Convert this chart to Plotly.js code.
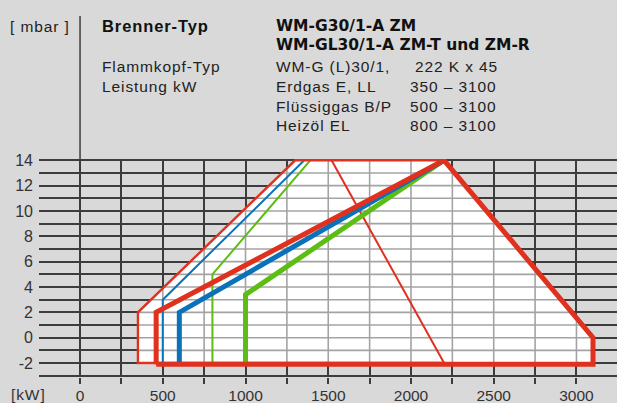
<!DOCTYPE html>
<html><head><meta charset="utf-8">
<script src="https://cdn.plot.ly/plotly-3.0.1.min.js"></script>
<style>
html,body{margin:0;padding:0;background:#d9d9d9;}
text.annotation-text[style*="Liberation"]{letter-spacing:0.9px;}
</style>
</head><body><div id="chart" style="width:617px;height:403px;"></div>
<script>
// ---- data (kW / mbar) ----
const envelopeX = [350, 350, 1300, 2200, 3100, 3100, 350];
const envelopeY = [-2.1, 2, 14, 14, 0, -2.1, -2.1];

const redThinX = [2200, 1300, 350, 350, 2200];
const redThinY = [14, 14, 2, -2, -2];
const redDiagX = [1520, 2200];
const redDiagY = [14, -2];
const blueThinX = [500, 500, 1355];
const blueThinY = [-2, 3, 14];
const greenThinX = [800, 800, 1405];
const greenThinY = [-2, 5, 14.2];

const redThickX = [460, 460, 2200, 3100, 3100, 460];
const redThickY = [-2.1, 2, 14, 0, -2.1, -2.1];
const blueThickX = [600, 600, 2200];
const blueThickY = [-2.1, 2, 14];
const greenThickX = [1000, 1000, 2200];
const greenThickY = [-2.1, 3.4, 14];

const xTickVals = [0, 500, 1000, 1500, 2000, 2500, 3000];
const xTickText = ['0', '500', '1000', '1500', '2000', '2500', '3000'];
const yTickVals = [-2, 0, 2, 4, 6, 8, 10, 12, 14];
const yTickText = ['-2', '0', '2', '4', '6', '8', '10', '12', '14'];

const yUnit = '[ mbar ]';
const xUnit = '[kW]';
const headerLabels = ['Brenner-Typ', 'Flammkopf-Typ', 'Leistung kW'];
const modelNames = ['WM-G30/1-A ZM', 'WM-GL30/1-A ZM-T und ZM-R'];
const flameHead = ['WM-G (L)30/1,', '222 K x 45'];
const fuels = ['Erdgas E, LL', 'Flüssiggas B/P', 'Heizöl EL'];
const fuelRanges = ['350 – 3100', '500 – 3100', '800 – 3100'];

// ---- styling ----
const RED = '#e0301e', BLUE = '#0a72b8', GREEN = '#5cbd12';
const FONT = 'Liberation Sans, Arial, sans-serif';
const BFONT = 'DejaVu Sans, sans-serif';
const W = 617, H = 403, L = 39, R = 0, T = 159, B = 26;
const PW = W - L - R, PH = H - T - B;
const px = x => (x - L) / PW;
const py = y => (H - B - y) / PH;
const xRange = [-248, 3245], yRange = [-3.1, 14.1];
const X_MINOR = 250, Y_MINOR = 1;

// grid lines inside the white field are lighter: clip the grid to the field outline
function clipToField(horizontal, c) {
  const hits = [];
  for (let i = 0; i < envelopeX.length - 1; i++) {
    const a = horizontal ? envelopeY[i] : envelopeX[i];
    const b = horizontal ? envelopeY[i + 1] : envelopeX[i + 1];
    if (a === b || (a - c) * (b - c) > 0) continue;
    const t = (c - a) / (b - a);
    hits.push(horizontal ? envelopeX[i] + t * (envelopeX[i + 1] - envelopeX[i])
                         : envelopeY[i] + t * (envelopeY[i + 1] - envelopeY[i]));
  }
  return hits.length >= 2 ? [Math.min(...hits), Math.max(...hits)] : null;
}
const innerGridX = [], innerGridY = [];
for (let k = Math.ceil(yRange[0]); k <= yRange[1]; k += Y_MINOR) {
  const s = clipToField(true, k);
  if (s) innerGridX.push(s[0], s[1], null), innerGridY.push(k, k, null);
}
for (let k = Math.ceil(xRange[0] / X_MINOR) * X_MINOR; k <= xRange[1]; k += X_MINOR) {
  const s = clipToField(false, k);
  if (s) innerGridX.push(k, k, null), innerGridY.push(s[0], s[1], null);
}

const line = (x, y, color, width) => ({
  type: 'scatter', mode: 'lines', x: x, y: y, connectgaps: false,
  line: {color: color, width: width}, hoverinfo: 'skip', showlegend: false
});

const traces = [
  {type: 'scatter', mode: 'lines', x: envelopeX, y: envelopeY, fill: 'toself',
   fillcolor: '#ffffff', line: {width: 0, color: 'rgba(0,0,0,0)'},
   hoverinfo: 'skip', showlegend: false},
  line(innerGridX, innerGridY, '#a3a3a3', 1.6),
  line(greenThinX, greenThinY, GREEN, 2),
  line(blueThinX, blueThinY, BLUE, 2),
  line(redDiagX, redDiagY, RED, 2),
  line(redThinX, redThinY, RED, 2.4),
  line(greenThickX, greenThickY, GREEN, 5),
  line(blueThickX, blueThickY, BLUE, 5),
  line(redThickX, redThickY, RED, 5)
];

const DARK = '#3c3c3c';

const regFont = {family: FONT, size: 15.5, color: '#222'};
const ann = (text, x, y, opt) => Object.assign({
  text: text, xref: 'paper', yref: 'paper', x: px(x), y: py(y),
  xanchor: 'left', yanchor: 'middle', showarrow: false, borderpad: 0, borderwidth: 0,
  font: regFont
}, opt || {});
const bold = {font: {family: BFONT, size: 15.5, color: '#111', weight: 700}};

const rows = [26, 45.5, 66.3, 86.5, 106.3, 125.5];
const C1 = 102, C2 = 276, C3 = 410;
const annotations = [
  ann(yUnit, 10, rows[0]),
  ann(headerLabels[0], C1, rows[0], {font: {family: FONT, size: 16.5, color: '#111', weight: 700}}),
  ann(modelNames[0], C2, rows[0], bold),
  ann(modelNames[1], C2, rows[1], bold),
  ann(headerLabels[1], C1, rows[2]),
  ann(flameHead[0], C2, rows[2]),
  ann(flameHead[1], C3 + 5, rows[2]),
  ann(headerLabels[2], C1, rows[3]),
  ann(xUnit, 11, 394, {font: {family: 'Liberation Sans', size: 15.5, color: '#333'}})
];
fuels.forEach((f, i) => {
  annotations.push(ann(f, C2, rows[3 + i]));
  annotations.push(ann(fuelRanges[i], C3, rows[3 + i]));
});

const layout = {
  width: W, height: H, margin: {l: L, r: R, t: T, b: B, pad: 0},
  paper_bgcolor: '#d9d9d9', plot_bgcolor: 'rgba(0,0,0,0)',
  showlegend: false,
  xaxis: {
    range: xRange, tickmode: 'array', tickvals: xTickVals, ticktext: xTickText,
    ticks: 'outside', ticklen: 6, tickwidth: 2, tickcolor: DARK,
    showgrid: true, gridcolor: DARK, gridwidth: 2, zeroline: false, showline: false,
    minor: {dtick: X_MINOR, tick0: 0, showgrid: true, gridcolor: DARK, gridwidth: 2,
            ticks: 'outside', ticklen: 6, tickwidth: 2, tickcolor: DARK},
    tickfont: {family: FONT, size: 15.5, color: '#333'}, ticklabelstandoff: -2, fixedrange: true
  },
  yaxis: {
    range: yRange, tickmode: 'array', tickvals: yTickVals, ticktext: yTickText,
    ticks: '', showgrid: true, gridcolor: DARK, gridwidth: 2, zeroline: false, showline: false,
    minor: {dtick: Y_MINOR, tick0: 0, showgrid: true, gridcolor: DARK, gridwidth: 2},
    tickfont: {family: FONT, size: 16, color: '#333'}, ticklabelstandoff: 5, fixedrange: true
  },
  shapes: [
    {type: 'line', xref: 'x', yref: 'paper', x0: 0, x1: 0, y0: 1, y1: py(16),
     line: {color: DARK, width: 1.5}}
  ],
  annotations: annotations
};

Plotly.newPlot('chart', traces, layout, {displayModeBar: false, staticPlot: true});
</script></body></html>
